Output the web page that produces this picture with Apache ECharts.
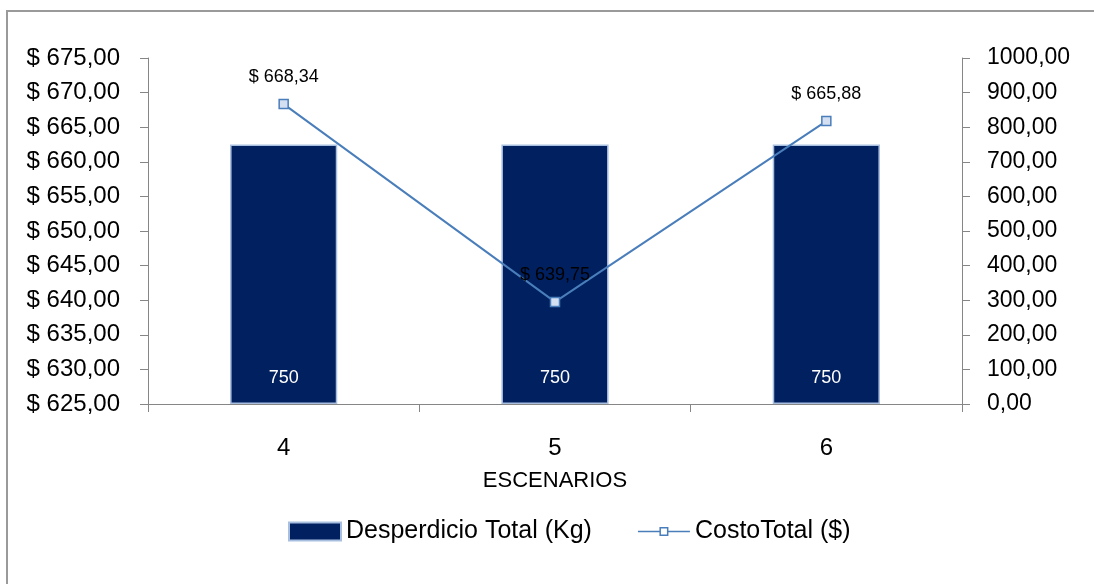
<!DOCTYPE html>
<html>
<head>
<meta charset="utf-8">
<script src="https://cdn.jsdelivr.net/npm/echarts@6/dist/echarts.min.js"></script>
<style>
  html, body { margin: 0; padding: 0; background: #fff; overflow: hidden; }
  #frame { position: absolute; left: 6px; top: 10px; width: 1200px; height: 700px; border: 2px solid #9a9a9a; }
  #chart { position: absolute; left: 0; top: 0; width: 1094px; height: 584px; }
</style>
</head>
<body>
<div id="frame"></div>
<div id="chart"></div>
<script>
  // datos
  const escenarios = ['4', '5', '6']
  const desperdicioTotal = [750, 750, 750]
  const costoTotal = [668.34, 639.75, 665.88]

  const fontFam = '"Liberation Sans", "DejaVu Sans", sans-serif'
  const coma = (v) => v.toFixed(2).replace('.', ',')

  // icono de leyenda: linea con cuadrito hueco en el medio
  const iconoLinea = 'path://M0 8.3L21.5 8.3L21.5 9.7L0 9.7Z' +
    'M30.5 8.3L52 8.3L52 9.7L30.5 9.7Z' +
    'M21.5 4.5L30.5 4.5L30.5 6L21.5 6Z' +
    'M21.5 12L30.5 12L30.5 13.5L21.5 13.5Z' +
    'M21.5 6L23 6L23 12L21.5 12Z' +
    'M29 6L30.5 6L30.5 12L29 12Z'

  const chart = echarts.init(document.getElementById('chart'), null, { renderer: 'canvas' })

  chart.setOption({
    animation: false,
    textStyle: { fontFamily: fontFam, color: '#000' },
    grid: { left: 148, right: 132, top: 58, bottom: 180, containLabel: false },
    legend: {
      bottom: 35,
      left: 283,
      itemGap: 46,
      itemWidth: 52,
      itemHeight: 18,
      textStyle: { fontSize: 25, fontFamily: fontFam, color: '#000' },
      data: [
        { name: 'Desperdicio Total (Kg)', icon: 'rect' },
        { name: 'CostoTotal ($)', icon: iconoLinea, itemStyle: { color: '#4a7ebb', borderWidth: 0 } }
      ]
    },
    xAxis: [{
      type: 'category',
      data: escenarios,
      name: 'ESCENARIOS',
      nameLocation: 'middle',
      nameGap: 66,
      nameTextStyle: { fontSize: 22, color: '#000' },
      axisLine: { lineStyle: { color: '#868686', width: 1 } },
      axisTick: { show: true, length: 8, lineStyle: { color: '#868686' } },
      axisLabel: { fontSize: 24, color: '#000', margin: 32 },
      splitLine: { show: false }
    }],
    yAxis: [{
      type: 'value',
      position: 'left',
      min: 625,
      max: 675,
      interval: 5,
      axisLine: { show: true, lineStyle: { color: '#868686', width: 1 } },
      axisTick: { show: true, length: 8, lineStyle: { color: '#868686' } },
      axisLabel: { fontSize: 24, color: '#000', margin: 28, formatter: (v) => '$ ' + coma(v) },
      splitLine: { show: false }
    }, {
      type: 'value',
      position: 'right',
      min: 0,
      max: 1000,
      interval: 100,
      axisLine: { show: true, lineStyle: { color: '#868686', width: 1 } },
      axisTick: { show: true, length: 8, lineStyle: { color: '#868686' } },
      axisLabel: { fontSize: 23, color: '#000', margin: 25, formatter: (v) => coma(v) },
      splitLine: { show: false }
    }],
    series: [{
      name: 'Desperdicio Total (Kg)',
      type: 'bar',
      yAxisIndex: 1,
      barWidth: '39.5%',
      data: desperdicioTotal,
      itemStyle: { color: '#002060', borderColor: '#a9bfe0', borderWidth: 1.5 },
      label: {
        show: true,
        position: 'insideBottom',
        distance: 17,
        color: '#fff',
        fontSize: 18,
        fontFamily: fontFam
      },
      z: 1
    }, {
      name: 'CostoTotal ($)',
      type: 'line',
      yAxisIndex: 0,
      data: costoTotal,
      symbol: 'rect',
      symbolSize: 9,
      lineStyle: { color: '#4a7ebb', width: 2 },
      itemStyle: { color: '#d4e0f2', borderColor: '#4a7ebb', borderWidth: 1.5 },
      label: {
        show: true,
        position: 'top',
        distance: 13,
        color: '#000',
        fontSize: 18,
        fontFamily: fontFam,
        formatter: (p) => '$ ' + coma(p.value)
      },
      z: 3
    }]
  })
</script>
</body>
</html>
